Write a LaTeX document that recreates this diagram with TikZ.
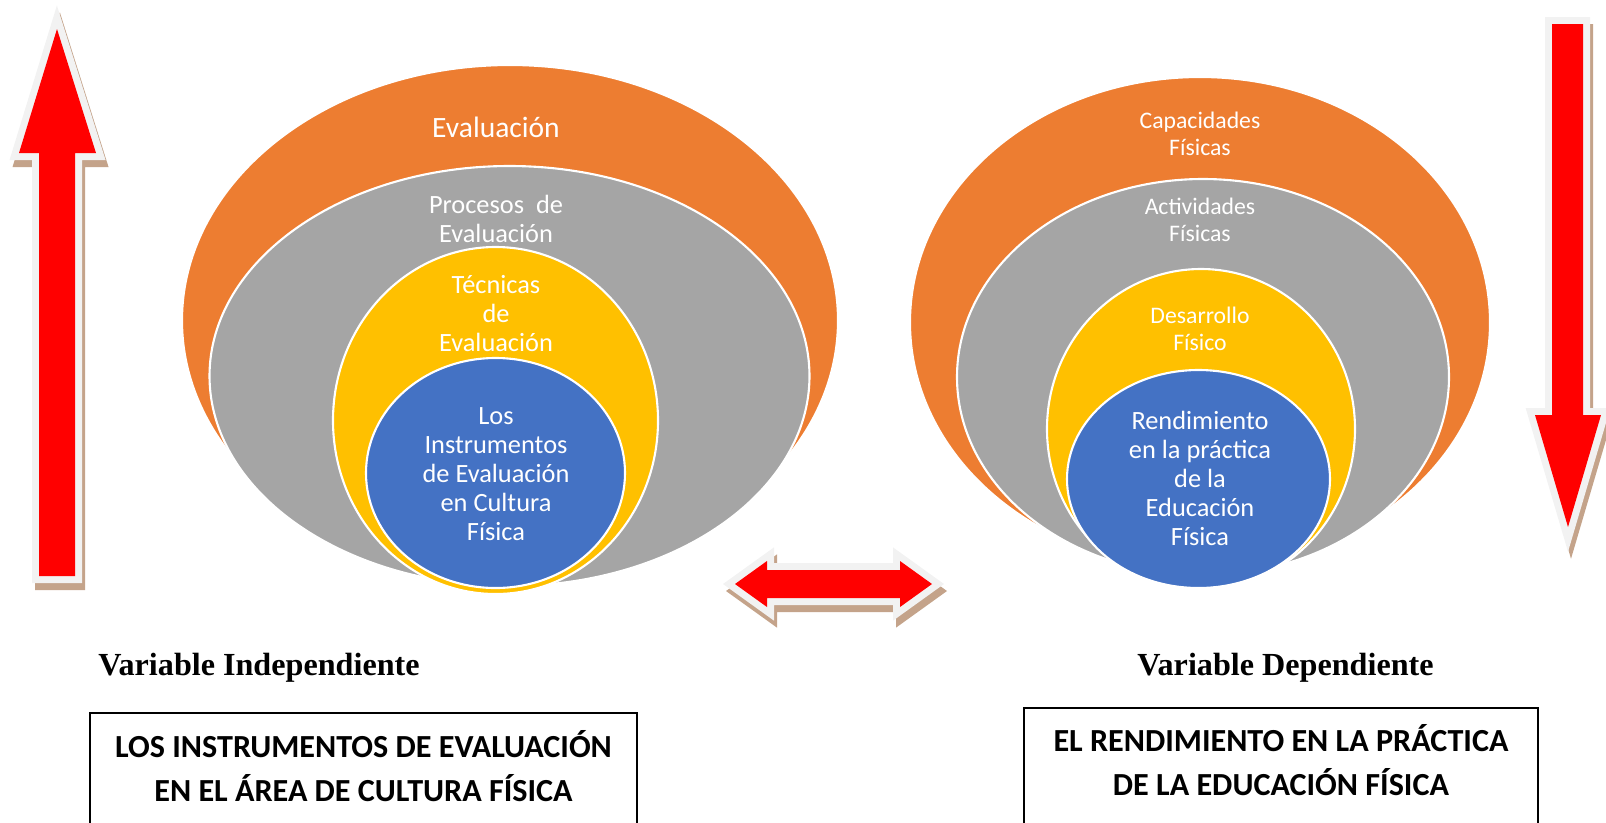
\documentclass[tikz,border=0pt]{standalone}
\usepackage{fontspec}
\setmainfont{Carlito}
\newfontfamily\timesfont{Liberation Serif}
\usetikzlibrary{shapes.geometric}

\definecolor{ringorange}{HTML}{ED7D31}
\definecolor{ringgray}{HTML}{A5A5A5}
\definecolor{ringyellow}{HTML}{FFC000}
\definecolor{ringblue}{HTML}{4472C4}
\definecolor{arrowred}{HTML}{FF0000}
\definecolor{rimgray}{HTML}{F2F2F2}
\definecolor{shadowtan}{RGB}{196,163,138}

\begin{document}
\begin{tikzpicture}[
ring/.style={ellipse, draw=white, line width=1.2pt, inner sep=0pt},
ring_text/.style={text=white, align=center, font=\fontsize{15}{16.5}\selectfont},
small_ring_text/.style={text=white, align=center, font=\fontsize{13.5}{15}\selectfont},
block_arrow/.style={draw=rimgray, line width=0.28cm, line join=miter,
  preaction={draw=shadowtan, fill=shadowtan, line width=0.28cm, line join=miter, transform canvas={shift={(0.06cm,-0.14cm)}}},
  postaction={fill=arrowred}},
variable_text/.style={font=\timesfont\bfseries\fontsize{18.3}{21}\selectfont},
title_frame/.style={rectangle, draw=black, line width=1.1pt, inner sep=0pt, anchor=north},
title_text/.style={align=center, font=\bfseries\fontsize{18.3}{25}\selectfont}
]

\useasboundingbox (0,0) rectangle (32.12,-16.44);

% independent variable rings
\node[ring, fill=ringorange, minimum width=13.12cm, minimum height=10.22cm](evaluacion) at (10.2,-6.41) {};
\node[ring, fill=ringgray, minimum width=12cm, minimum height=8.4cm](procesos) at (10.19,-7.52) {};
\node[ring, fill=ringyellow, minimum width=6.5cm, minimum height=6.94cm](tecnicas) at (9.91,-8.41) {};
\node[ring, fill=ringblue, minimum width=5.18cm, minimum height=4.6cm](instrumentos) at (9.91,-9.46) {};

\node[ring_text, font=\fontsize{16.8}{18}\selectfont](evaluacion_text) at (9.92,-2.54) {Evaluación};
\node[ring_text](procesos_text) at (9.92,-4.37) {Procesos~ de\\Evaluación};
\node[ring_text](tecnicas_text) at (9.92,-6.28) {Técnicas\\de\\Evaluación};
\node[ring_text](instrumentos_text) at (9.92,-9.48) {Los\\Instrumentos\\de Evaluación\\en Cultura\\Física};

% dependent variable rings
\node[ring, fill=ringorange, minimum width=11.6cm, minimum height=9.82cm](capacidades) at (24.0,-6.45) {};
\node[ring, fill=ringgray, minimum width=9.84cm, minimum height=7.92cm](actividades) at (24.06,-7.54) {};
\node[ring, fill=ringyellow, minimum width=6.16cm, minimum height=6.4cm](desarrollo) at (24.02,-8.58) {};
\node[ring, fill=ringblue, minimum width=5.26cm, minimum height=4.36cm](rendimiento) at (23.97,-9.58) {};

\node[small_ring_text](capacidades_text) at (24.0,-2.68) {Capacidades\\Físicas};
\node[small_ring_text](actividades_text) at (24.0,-4.4) {Actividades\\Físicas};
\node[small_ring_text](desarrollo_text) at (24.0,-6.58) {Desarrollo\\Físico};
\node[ring_text](rendimiento_text) at (24.0,-9.57) {Rendimiento\\en la práctica\\de la\\Educación\\Física};

% block arrows
\draw[block_arrow] (1.14,-0.58) -- (1.92,-3.06) -- (1.5,-3.06) -- (1.5,-11.52) -- (0.78,-11.52) -- (0.78,-3.06) -- (0.38,-3.06) -- cycle;
\draw[block_arrow] (31.04,-0.48) -- (31.66,-0.48) -- (31.66,-8.3) -- (32.02,-8.3) -- (31.36,-10.54) -- (30.7,-8.3) -- (31.04,-8.3) -- cycle;
\draw[block_arrow] (14.7,-11.68) -- (15.34,-11.22) -- (15.34,-11.4) -- (18.0,-11.4) -- (18.0,-11.22) -- (18.64,-11.68) -- (18.0,-12.14) -- (18.0,-11.96) -- (15.34,-11.96) -- (15.34,-12.14) -- cycle;

% variables
\node[variable_text](independiente) at (5.18,-13.36) {Variable Independiente};
\node[variable_text](dependiente) at (25.71,-13.36) {Variable Dependiente};

\node[title_frame, minimum width=10.94cm, minimum height=2.8cm](left_frame) at (7.27,-14.24) {};
\node[title_text](left_title) at (7.27,-15.32) {LOS INSTRUMENTOS DE EVALUACIÓN\\EN EL ÁREA DE CULTURA FÍSICA};
\node[title_frame, minimum width=10.28cm, minimum height=2.8cm](right_frame) at (25.62,-14.14) {};
\node[title_text](right_title) at (25.62,-15.21) {EL RENDIMIENTO EN LA PRÁCTICA\\DE LA EDUCACIÓN FÍSICA};

\end{tikzpicture}
\end{document}
